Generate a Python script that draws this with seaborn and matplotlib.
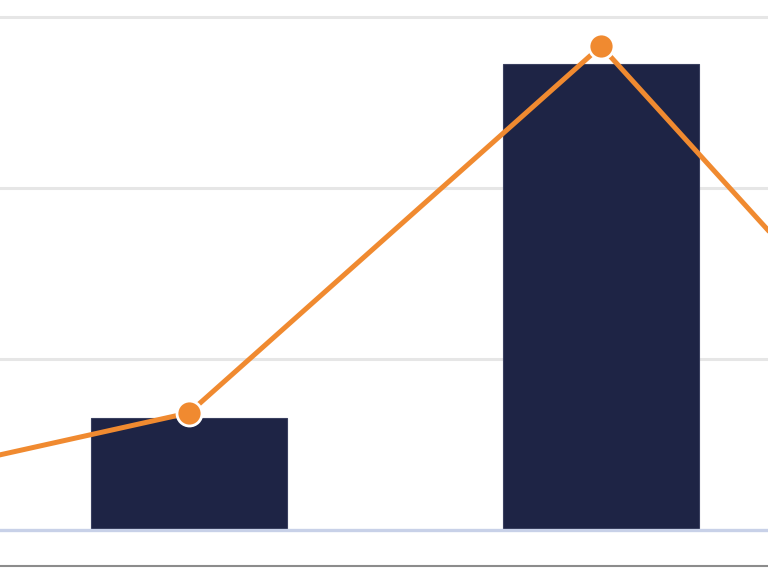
import pandas as pd
import seaborn as sns
import matplotlib.pyplot as plt
from matplotlib.lines import Line2D

# values (the crop only shows the two middle categories)
categories = ['A', 'B', 'C', 'D']
bar_values = [30.0, 13.1, 54.5, 20.0]
line_values = [3.0, 13.7, 56.6, 3.5]

NAVY = '#1e2445'
ORANGE = '#f08a30'

sns.set_theme(style="white")

df = pd.DataFrame({'Category': categories, 'Bars': bar_values, 'Line': line_values})

fig = plt.figure(figsize=(7.68, 5.68), dpi=100)
ax = fig.add_axes([0, 38 / 568, 1, 530 / 568])

sns.barplot(data=df, x='Category', y='Bars', color=NAVY, saturation=1,
            width=0.476, edgecolor='#3a4060', linewidth=0.8, ax=ax, zorder=2)
sns.pointplot(data=df, x='Category', y='Line', color=ORANGE, ax=ax,
              markers='o', markersize=18, linewidth=3.6,
              markeredgecolor='white', markeredgewidth=2.0, zorder=3)

ax.set_xlim(223 / 412, 991 / 412)
ax.set_ylim(0, 62)
ax.set_yticks([20, 40, 60])
ax.yaxis.grid(True, color='#e6e6e6', linewidth=2.2, zorder=0)
ax.set_axisbelow(True)
for side in ['top', 'left', 'right']:
    ax.spines[side].set_visible(False)
ax.spines['bottom'].set_color('#c8d1e8')
ax.spines['bottom'].set_linewidth(2.4)
ax.tick_params(left=False, bottom=False, labelleft=False, labelbottom=False)
ax.set_xlabel('')
ax.set_ylabel('')

# outer frame line near the bottom edge
fig.add_artist(Line2D([0, 1], [2 / 568, 2 / 568], color='#8c8c8c', linewidth=1.5,
                      transform=fig.transFigure))

fig.savefig('out.png', dpi=100)
